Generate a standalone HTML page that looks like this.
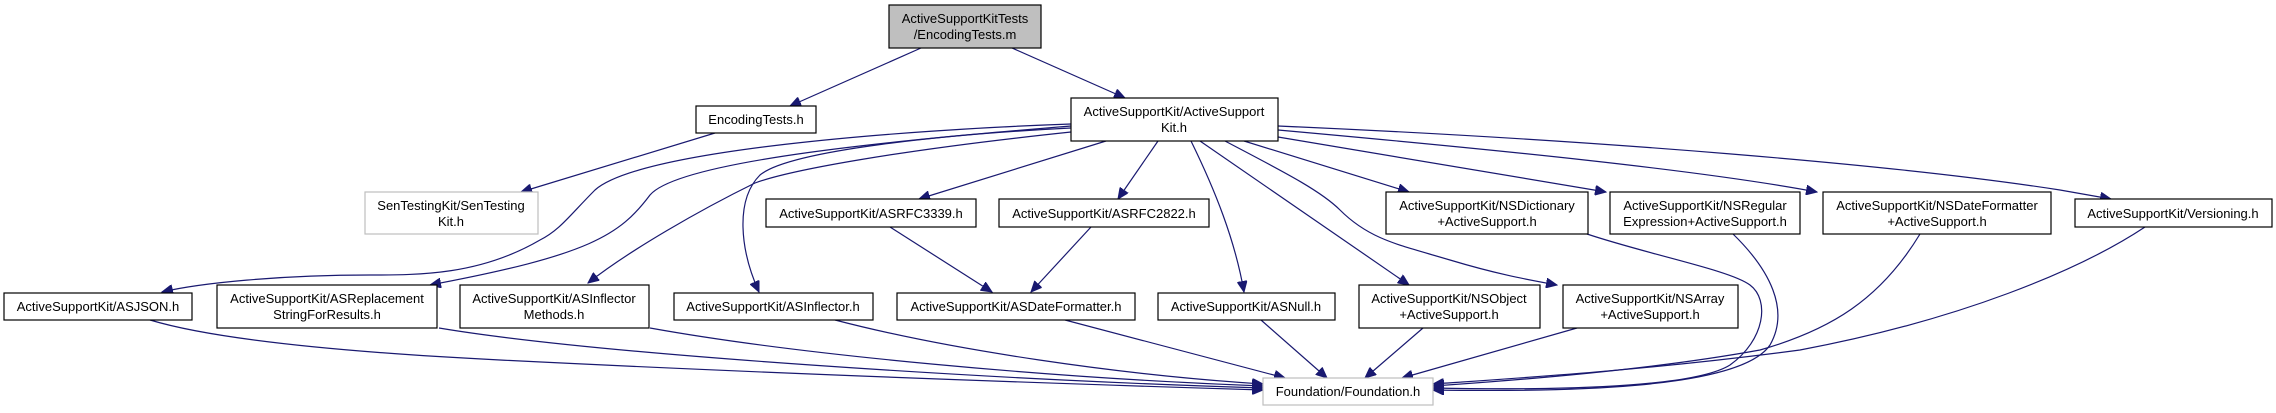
<!DOCTYPE html>
<html><head><meta charset="utf-8"><style>
html,body{margin:0;padding:0;background:#fff;width:2276px;height:413px;overflow:hidden}
svg{display:block}
text{font-family:"Liberation Sans",sans-serif;font-size:13px;fill:#000;text-anchor:middle}
.n{fill:#fff;stroke:#000;stroke-width:1.2}
.g{fill:#fff;stroke:#bfbfbf;stroke-width:1.2}
.e{fill:none;stroke:#191970;stroke-width:1.2}
</style></head><body>
<svg width="2276" height="413" viewBox="0 0 2276 413" xmlns="http://www.w3.org/2000/svg">
<defs><marker id="a" markerUnits="userSpaceOnUse" markerWidth="12" markerHeight="10" refX="11" refY="5" orient="auto"><path d="M0,0 L11,5 L0,10 Z" fill="#191970" stroke="#191970"/></marker></defs>
<g class="e" marker-end="url(#a)">
<path d="M921,48 L790,106"/>
<path d="M1012,48 L1125,98"/>
<path d="M715,133 L521,192"/>
<path d="M1071,124 C900,130 640,150 595,190 C570,215 560,230 540,240 C480,275 420,275 370,275 C280,275 200,283 162,292"/>
<path d="M1071,126 C900,140 680,160 650,195 C620,235 590,255 430,285"/>
<path d="M1071,132 C900,150 790,170 755,183 C700,210 630,250 588,283"/>
<path d="M1071,128 C950,134 790,150 760,175 C735,200 740,250 759,292"/>
<path d="M1106,141 L919,199"/>
<path d="M1158,141 L1118,199"/>
<path d="M1191,141 C1215,190 1235,240 1244,292"/>
<path d="M1200,141 L1409,285"/>
<path d="M1225,141 C1280,170 1320,190 1340,210 C1370,240 1400,245 1450,260 C1500,275 1530,280 1557,285"/>
<path d="M1244,141 L1409,192"/>
<path d="M1278,137 L1606,192"/>
<path d="M1278,130 C1500,150 1700,170 1817,192"/>
<path d="M1278,126 C1600,140 1900,165 2060,190 L2111,199"/>
<path d="M890,227 L992,292"/>
<path d="M1091,227 L1031,292"/>
<path d="M150,320 C200,335 300,350 500,360 C800,375 1100,385 1263,390"/>
<path d="M439,328 C600,355 1000,380 1263,388"/>
<path d="M650,328 C800,355 1050,378 1263,386"/>
<path d="M835,320 C950,350 1120,375 1263,384"/>
<path d="M1065,320 L1285,378"/>
<path d="M1261,320 L1327,378"/>
<path d="M1423,328 L1365,378"/>
<path d="M1577,328 L1402,378"/>
<path d="M1587,234 C1650,255 1730,270 1750,285 C1770,300 1765,340 1730,365 C1690,390 1530,390 1433,388"/>
<path d="M1733,234 C1770,270 1790,310 1770,345 C1740,390 1560,392 1433,390"/>
<path d="M1920,234 C1880,300 1830,330 1760,350 C1650,370 1520,380 1433,386"/>
<path d="M2145,227 C2080,270 1960,320 1800,350 C1650,370 1520,378 1433,384"/>
</g>
<rect x="889" y="5" width="152" height="43" fill="#bfbfbf" stroke="#000" stroke-width="1.2"/>
<text x="965" y="23">ActiveSupportKitTests</text><text x="965" y="39">/EncodingTests.m</text>
<rect class="n" x="696" y="106" width="120" height="27"/><text x="756" y="124">EncodingTests.h</text>
<rect class="n" x="1071" y="98" width="207" height="43"/><text x="1174" y="116">ActiveSupportKit/ActiveSupport</text><text x="1174" y="132">Kit.h</text>
<rect class="g" x="365" y="192" width="173" height="42"/><text x="451" y="210">SenTestingKit/SenTesting</text><text x="451" y="226">Kit.h</text>
<rect class="n" x="766" y="199" width="210" height="28"/><text x="871" y="218">ActiveSupportKit/ASRFC3339.h</text>
<rect class="n" x="999" y="199" width="210" height="28"/><text x="1104" y="218">ActiveSupportKit/ASRFC2822.h</text>
<rect class="n" x="1386" y="192" width="202" height="42"/><text x="1487" y="210">ActiveSupportKit/NSDictionary</text><text x="1487" y="226">+ActiveSupport.h</text>
<rect class="n" x="1610" y="192" width="190" height="42"/><text x="1705" y="210">ActiveSupportKit/NSRegular</text><text x="1705" y="226">Expression+ActiveSupport.h</text>
<rect class="n" x="1823" y="192" width="228" height="42"/><text x="1937" y="210">ActiveSupportKit/NSDateFormatter</text><text x="1937" y="226">+ActiveSupport.h</text>
<rect class="n" x="2075" y="199" width="197" height="28"/><text x="2173" y="218">ActiveSupportKit/Versioning.h</text>
<rect class="n" x="4" y="293" width="188" height="27"/><text x="98" y="311">ActiveSupportKit/ASJSON.h</text>
<rect class="n" x="217" y="285" width="220" height="43"/><text x="327" y="303">ActiveSupportKit/ASReplacement</text><text x="327" y="319">StringForResults.h</text>
<rect class="n" x="460" y="285" width="189" height="43"/><text x="554" y="303">ActiveSupportKit/ASInflector</text><text x="554" y="319">Methods.h</text>
<rect class="n" x="674" y="293" width="199" height="27"/><text x="773" y="311">ActiveSupportKit/ASInflector.h</text>
<rect class="n" x="897" y="293" width="238" height="27"/><text x="1016" y="311">ActiveSupportKit/ASDateFormatter.h</text>
<rect class="n" x="1158" y="293" width="177" height="27"/><text x="1246" y="311">ActiveSupportKit/ASNull.h</text>
<rect class="n" x="1359" y="285" width="181" height="43"/><text x="1449" y="303">ActiveSupportKit/NSObject</text><text x="1449" y="319">+ActiveSupport.h</text>
<rect class="n" x="1563" y="285" width="175" height="43"/><text x="1650" y="303">ActiveSupportKit/NSArray</text><text x="1650" y="319">+ActiveSupport.h</text>
<rect class="g" x="1263" y="378" width="170" height="27"/><text x="1348" y="396">Foundation/Foundation.h</text>
</svg>
</body></html>
